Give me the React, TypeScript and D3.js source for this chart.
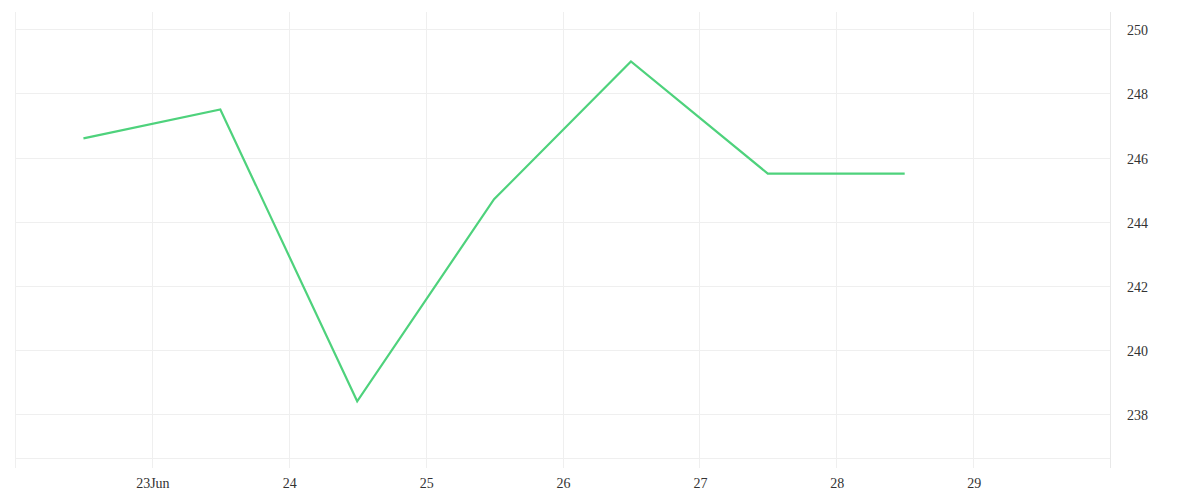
import { useEffect, useRef } from "react"
import * as d3 from "d3"

// Daily closes, sampled at midday (half-day offsets) between 22 and 28 Jun
const dates = ["2024-06-22T12:00", "2024-06-23T12:00", "2024-06-24T12:00", "2024-06-25T12:00", "2024-06-26T12:00", "2024-06-27T12:00", "2024-06-28T12:00"]
const prices = [246.6, 247.5, 238.4, 244.7, 249.0, 245.5, 245.5]
const yTicks = [238, 240, 242, 244, 246, 248, 250]
const xTickDays = ["2024-06-23", "2024-06-24", "2024-06-25", "2024-06-26", "2024-06-27", "2024-06-28", "2024-06-29"]
const xDomain = ["2024-06-22", "2024-06-30"]
const yDomain = [236.63, 250.54]

export default function App() {
  const svgRef = useRef<SVGSVGElement>(null)

  useEffect(() => {
    if (!svgRef.current) return
    d3.select(svgRef.current).selectAll("*").remove()

    const width = 1200
    const height = 500
    const plot = { left: 15, right: 1110, top: 12, bottom: 458 }
    const font = "'Liberation Serif', serif"
    const gridColor = "#efefef"

    const svg = d3.select(svgRef.current).attr("width", width).attr("height", height)

    const parseDay = d3.timeParse("%Y-%m-%d")
    const parseTime = d3.timeParse("%Y-%m-%dT%H:%M")

    const xScale = d3
      .scaleTime()
      .domain(xDomain.map((d) => parseDay(d) as Date))
      .range([plot.left, plot.right])

    const yScale = d3.scaleLinear().domain(yDomain).range([plot.bottom, plot.top])

    const data = dates.map((d, i) => ({ date: parseTime(d) as Date, price: prices[i] }))
    const tickDates = xTickDays.map((d) => parseDay(d) as Date)

    // vertical grid lines (incl. left edge)
    const vLines = [parseDay(xDomain[0]) as Date, ...tickDates]
    svg
      .append("g")
      .selectAll("line")
      .data(vLines)
      .enter()
      .append("line")
      .attr("x1", (d) => Math.round(xScale(d)) + 0.5)
      .attr("x2", (d) => Math.round(xScale(d)) + 0.5)
      .attr("y1", plot.top)
      .attr("y2", plot.bottom + 10)
      .attr("stroke", gridColor)
      .attr("stroke-width", 1)

    // horizontal grid lines
    svg
      .append("g")
      .selectAll("line")
      .data([...yTicks, yDomain[0]])
      .enter()
      .append("line")
      .attr("x1", plot.left)
      .attr("x2", plot.right)
      .attr("y1", (d) => Math.round(yScale(d)) + 0.5)
      .attr("y2", (d) => Math.round(yScale(d)) + 0.5)
      .attr("stroke", gridColor)
      .attr("stroke-width", 1)

    // right axis border
    svg
      .append("line")
      .attr("x1", plot.right + 0.5)
      .attr("x2", plot.right + 0.5)
      .attr("y1", plot.top)
      .attr("y2", plot.bottom + 10)
      .attr("stroke", "#e8e8e8")

    // price line
    const line = d3
      .line<{ date: Date; price: number }>()
      .x((d) => xScale(d.date))
      .y((d) => yScale(d.price))

    svg
      .append("path")
      .datum(data)
      .attr("fill", "none")
      .attr("stroke", "#4ed27c")
      .attr("stroke-width", 2.2)
      .attr("stroke-linejoin", "miter")
      .attr("d", line)

    // y labels on the right
    svg
      .append("g")
      .selectAll("text")
      .data(yTicks)
      .enter()
      .append("text")
      .attr("x", plot.right + 17)
      .attr("y", (d) => yScale(d) + 6)
      .attr("font-family", font)
      .attr("font-size", "14px")
      .attr("fill", "#333")
      .text((d) => d)

    // x labels
    const fmt = d3.timeFormat("%-d")
    svg
      .append("g")
      .selectAll("text")
      .data(tickDates)
      .enter()
      .append("text")
      .attr("x", (d) => xScale(d) + 1)
      .attr("y", 488)
      .attr("text-anchor", "middle")
      .attr("font-family", font)
      .attr("font-size", "14px")
      .attr("fill", "#333")
      .text((d, i) => (i === 0 ? `${fmt(d)}Jun` : fmt(d)))
  }, [])

  return (
    <div style={{ position: "absolute", left: 0, top: 0, background: "#fff" }}>
      <svg ref={svgRef} style={{ display: "block" }} />
    </div>
  )
}
